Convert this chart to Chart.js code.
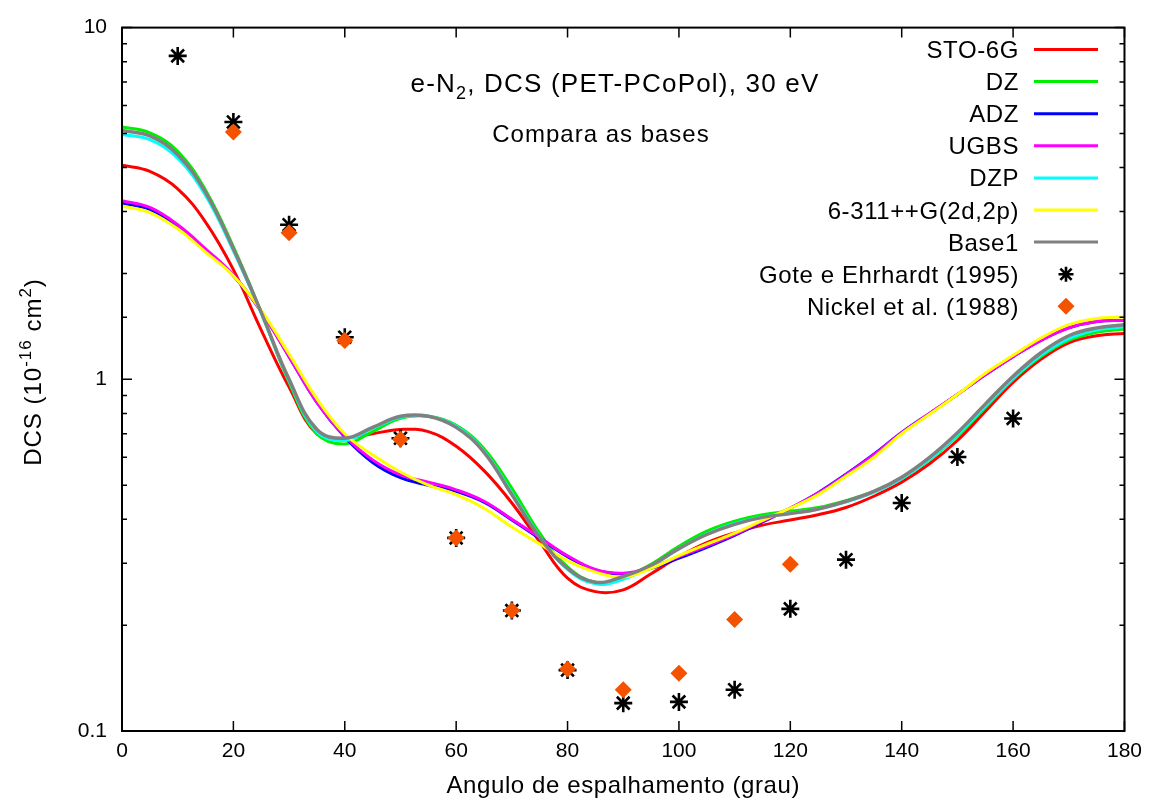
<!DOCTYPE html>
<html>
<head>
<meta charset="utf-8">
<script src="https://cdn.jsdelivr.net/npm/chart.js@4"></script>
<style>
  html, body { margin: 0; padding: 0; background: #fff; }
  #wrap { width: 1150px; height: 801px; }
</style>
</head>
<body>
<div id="wrap"><canvas id="c" width="1150" height="801"></canvas></div>
<script>
// scattering angle grid (deg) for the computed curves
const angles = [0, 5, 10, 15, 20, 25, 30, 35, 40, 45, 50, 55, 60, 65, 70, 75, 80, 85, 90,
  95, 100, 105, 110, 115, 120, 125, 130, 135, 140, 145, 150, 155, 160, 165, 170, 175, 180];

const sto6g = [4.06, 3.90, 3.48, 2.80, 2.05, 1.38, 0.95, 0.70, 0.68, 0.70, 0.72, 0.71, 0.645, 0.55, 0.445, 0.345, 0.272, 0.249, 0.252,
  0.28, 0.313, 0.343, 0.366, 0.385, 0.398, 0.412, 0.432, 0.465, 0.51, 0.575, 0.67, 0.81, 0.98, 1.14, 1.27, 1.33, 1.35];
const dz = [5.22, 5.02, 4.45, 3.45, 2.38, 1.55, 0.98, 0.70, 0.655, 0.71, 0.775, 0.785, 0.74, 0.635, 0.49, 0.365, 0.293, 0.265, 0.273,
  0.298, 0.335, 0.37, 0.395, 0.412, 0.422, 0.432, 0.452, 0.48, 0.522, 0.59, 0.69, 0.83, 1.0, 1.16, 1.29, 1.36, 1.39];
const adz = [3.17, 3.04, 2.72, 2.33, 1.97, 1.56, 1.16, 0.86, 0.685, 0.58, 0.525, 0.50, 0.48, 0.447, 0.398, 0.353, 0.313, 0.287, 0.28,
  0.29, 0.31, 0.333, 0.36, 0.393, 0.43, 0.476, 0.537, 0.612, 0.706, 0.80, 0.905, 1.03, 1.16, 1.29, 1.40, 1.46, 1.47];
const ugbs = [3.22, 3.08, 2.75, 2.35, 1.98, 1.56, 1.16, 0.86, 0.69, 0.59, 0.535, 0.51, 0.485, 0.45, 0.40, 0.355, 0.315, 0.288, 0.281,
  0.292, 0.313, 0.336, 0.362, 0.395, 0.43, 0.475, 0.535, 0.61, 0.705, 0.80, 0.905, 1.03, 1.16, 1.29, 1.40, 1.46, 1.47];
const dzp = [4.97, 4.80, 4.25, 3.33, 2.32, 1.54, 0.99, 0.71, 0.67, 0.725, 0.78, 0.785, 0.735, 0.625, 0.475, 0.357, 0.288, 0.262, 0.27,
  0.294, 0.33, 0.363, 0.389, 0.406, 0.416, 0.428, 0.448, 0.477, 0.522, 0.592, 0.695, 0.838, 1.005, 1.17, 1.305, 1.38, 1.41];
const g6311 = [3.11, 2.98, 2.68, 2.30, 1.97, 1.57, 1.18, 0.88, 0.70, 0.61, 0.545, 0.50, 0.47, 0.43, 0.38, 0.34, 0.305, 0.283, 0.274,
  0.29, 0.315, 0.34, 0.365, 0.397, 0.43, 0.47, 0.53, 0.60, 0.70, 0.795, 0.905, 1.04, 1.17, 1.31, 1.43, 1.49, 1.505];
const base1 = [5.10, 4.92, 4.35, 3.40, 2.35, 1.55, 1.00, 0.72, 0.68, 0.73, 0.785, 0.785, 0.73, 0.62, 0.47, 0.355, 0.29, 0.265, 0.275,
  0.296, 0.33, 0.362, 0.387, 0.405, 0.415, 0.428, 0.45, 0.48, 0.527, 0.60, 0.705, 0.85, 1.02, 1.19, 1.33, 1.40, 1.43];

// experimental data
const goteAngles = [10, 20, 30, 40, 50, 60, 70, 80, 90, 100, 110, 120, 130, 140, 150, 160];
const goteDcs = [8.31, 5.39, 2.75, 1.317, 0.680, 0.354, 0.220, 0.149, 0.120, 0.121, 0.131, 0.2225, 0.307, 0.445, 0.601, 0.774];
const nickelAngles = [20, 30, 40, 50, 60, 70, 80, 90, 100, 110, 120];
const nickelDcs = [5.05, 2.61, 1.29, 0.675, 0.354, 0.220, 0.150, 0.131, 0.146, 0.2076, 0.298];

const xTicks = [0, 20, 40, 60, 80, 100, 120, 140, 160, 180];
const yTickLabels = [0.1, 1, 10];

const FONT = "'Liberation Sans', Arial, Helvetica, sans-serif";
const ORANGE = "#f55200";

const toXY = (xs, ys) => xs.map((x, i) => ({ x, y: ys[i] }));

function curve(label, ys, color, order, width) {
  return {
    label,
    data: toXY(angles, ys),
    borderColor: color,
    backgroundColor: color,
    borderWidth: width || 3,
    pointRadius: 0,
    tension: 0.4,
    fill: false,
    order,
  };
}

const datasets = [
  curve("STO-6G", sto6g, "#ff0000", 8),
  curve("DZ", dz, "#00ee00", 7),
  curve("ADZ", adz, "#0000ff", 6),
  curve("UGBS", ugbs, "#ff00ff", 5),
  curve("DZP", dzp, "#00ffff", 4),
  curve("6-311++G(2d,2p)", g6311, "#ffff00", 3),
  curve("Base1", base1, "#808080", 2, 3.5),
  {
    label: "Gote e Ehrhardt (1995)",
    data: toXY(goteAngles, goteDcs),
    showLine: false,
    pointStyle: "star",
    pointRadius: 9,
    pointBorderWidth: 2.6,
    borderColor: "#000",
    backgroundColor: "#000",
    order: 1,
  },
  {
    label: "Nickel et al. (1988)",
    data: toXY(nickelAngles, nickelDcs),
    showLine: false,
    pointStyle: "rectRot",
    pointRadius: 8.5,
    pointBorderWidth: 0,
    borderColor: ORANGE,
    backgroundColor: ORANGE,
    order: 0,
  },
];

// draw a run of [text, font, dy] pieces starting at x on baseline y
function runWidth(ctx, parts) {
  let w = 0;
  parts.forEach(([s, f]) => { ctx.font = f; w += ctx.measureText(s).width; });
  return w;
}
function drawRun(ctx, parts, x, y) {
  ctx.textAlign = "left";
  parts.forEach(([s, f, dy]) => { ctx.font = f; ctx.fillText(s, x, y + dy); x += ctx.measureText(s).width; });
}

// frame, inward ticks on all four sides, titles and gnuplot-style legend
const decorPlugin = {
  id: "decor",
  afterDraw(chart) {
    const { ctx, chartArea: a, scales } = chart;
    const xs = scales.x, ys = scales.y;
    ctx.save();
    ctx.strokeStyle = "#000";
    ctx.lineWidth = 2;
    ctx.strokeRect(a.left, a.top, a.right - a.left, a.bottom - a.top);

    ctx.lineWidth = 1.5;
    ctx.beginPath();
    xTicks.forEach((v) => {
      const px = xs.getPixelForValue(v);
      ctx.moveTo(px, a.bottom); ctx.lineTo(px, a.bottom - 10);
      ctx.moveTo(px, a.top); ctx.lineTo(px, a.top + 10);
    });
    ys.ticks.forEach((t) => {
      const v = t.value;
      const len = yTickLabels.includes(v) ? 10 : 5;
      const py = ys.getPixelForValue(v);
      ctx.moveTo(a.left, py); ctx.lineTo(a.left + len, py);
      ctx.moveTo(a.right, py); ctx.lineTo(a.right - len, py);
    });
    ctx.stroke();

    ctx.fillStyle = "#000";
    ctx.textBaseline = "alphabetic";

    // title with subscript
    ctx.letterSpacing = "1.2px";
    const big = "26px " + FONT;
    const title = [["e-N", big, 0], ["2", "18px " + FONT, 7], [", DCS (PET-PCoPol), 30 eV", big, 0]];
    drawRun(ctx, title, 615 - runWidth(ctx, title) / 2, 92);

    ctx.letterSpacing = "1px";
    ctx.font = "24px " + FONT;
    ctx.textAlign = "center";
    ctx.fillText("Compara as bases", 601, 142);

    // x axis title
    ctx.letterSpacing = "0.6px";
    ctx.font = "24px " + FONT;
    ctx.textAlign = "center";
    ctx.fillText("Angulo de espalhamento (grau)", (a.left + a.right) / 2, 793);

    // y axis title, rotated, with superscripts
    ctx.save();
    ctx.translate(41, 372);
    ctx.rotate(-Math.PI / 2);
    ctx.letterSpacing = "1px";
    const f24 = "24px " + FONT, f17 = "17px " + FONT;
    const ylab = [["DCS (10", f24, 0], ["-16", f17, -10], [" cm", f24, 0], ["2", f17, -10], [")", f24, 0]];
    drawRun(ctx, ylab, -runWidth(ctx, ylab) / 2, 0);
    ctx.restore();

    // legend
    ctx.letterSpacing = "0.6px";
    ctx.font = "24px " + FONT;
    ctx.textAlign = "right";
    chart.data.datasets.forEach((d, i) => {
      const cy = 49.5 + i * 32.1;
      ctx.fillStyle = "#000";
      ctx.fillText(d.label, 1019, cy + 8.5);
      if (d.showLine === false) {
        const cx = 1066;
        if (d.pointStyle === "star") {
          const r = 7.5;
          ctx.strokeStyle = "#000";
          ctx.lineWidth = 2.6;
          ctx.beginPath();
          ctx.moveTo(cx - r, cy); ctx.lineTo(cx + r, cy);
          ctx.moveTo(cx, cy - r); ctx.lineTo(cx, cy + r);
          ctx.moveTo(cx - r * 0.75, cy - r * 0.75); ctx.lineTo(cx + r * 0.75, cy + r * 0.75);
          ctx.moveTo(cx - r * 0.75, cy + r * 0.75); ctx.lineTo(cx + r * 0.75, cy - r * 0.75);
          ctx.stroke();
        } else {
          const r = 8.5;
          ctx.fillStyle = d.backgroundColor;
          ctx.beginPath();
          ctx.moveTo(cx - r, cy); ctx.lineTo(cx, cy - r); ctx.lineTo(cx + r, cy); ctx.lineTo(cx, cy + r);
          ctx.closePath();
          ctx.fill();
        }
      } else {
        ctx.strokeStyle = d.borderColor;
        ctx.lineWidth = 3;
        ctx.beginPath();
        ctx.moveTo(1034, cy); ctx.lineTo(1098, cy);
        ctx.stroke();
      }
    });
    ctx.restore();
  },
};

new Chart(document.getElementById("c"), {
  type: "line",
  data: { datasets },
  options: {
    responsive: false,
    animation: false,
    layout: { padding: { left: 0, right: 25, top: 23, bottom: 0 } },
    plugins: { legend: { display: false }, tooltip: { enabled: false } },
    scales: {
      x: {
        type: "linear",
        min: 0,
        max: 180,
        afterFit(s) { s.height = 70; },
        afterBuildTicks(s) { s.ticks = xTicks.map((v) => ({ value: v })); },
        grid: { display: false, drawTicks: false },
        border: { display: false },
        ticks: { color: "#000", padding: 8, font: { family: FONT, size: 21 }, maxRotation: 0 },
      },
      y: {
        type: "logarithmic",
        min: 0.1,
        max: 10,
        afterFit(s) { s.width = 122; },
        grid: { display: false, drawTicks: false },
        border: { display: false },
        ticks: {
          color: "#000",
          padding: 15,
          autoSkip: false,
          font: { family: FONT, size: 21 },
          callback(v) { return yTickLabels.includes(v) ? String(v) : ""; },
        },
      },
    },
  },
  plugins: [decorPlugin],
});
</script>
</body>
</html>
